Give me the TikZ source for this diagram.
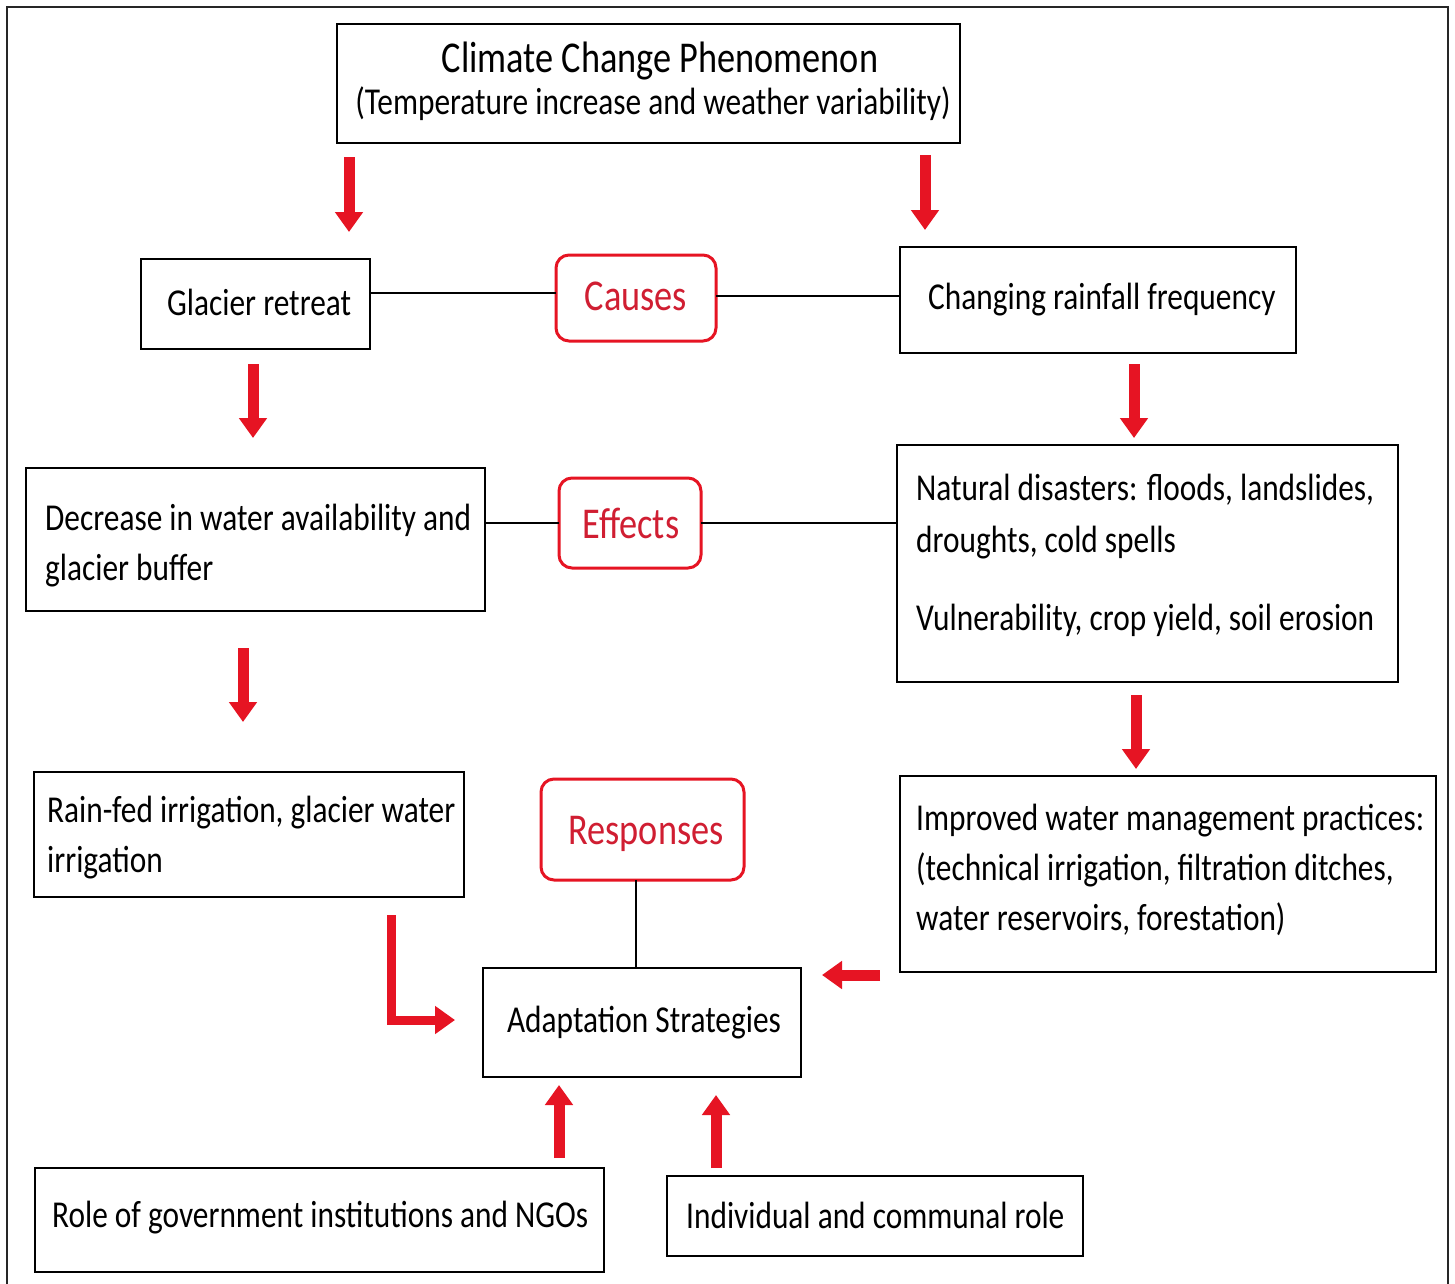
\documentclass[tikz,border=0pt]{standalone}
\usepackage{fontspec}
\newfontfamily\cf{Carlito}[FakeStretch=0.825]
\usetikzlibrary{arrows.meta}
\definecolor{arrred}{RGB}{230,20,35}
\definecolor{txtred}{RGB}{208,30,50}
\begin{document}
\begin{tikzpicture}[x=1pt,y=-1pt,
  box/.style={draw=black,line width=2pt,inner sep=0pt,outer sep=0pt},
  rbox/.style={draw=arrred,line width=3pt,rounded corners=13pt,inner sep=0pt,outer sep=0pt},
  txt/.style={inner sep=0pt,font=\cf\fontsize{38}{50}\selectfont},
  ttl/.style={inner sep=0pt,font=\cf\fontsize{44}{50}\selectfont},
  rtxt/.style={inner sep=0pt,text=txtred,font=\cf\fontsize{44}{50}\selectfont},
  conn/.style={draw=black,line width=2pt},
  redarrow/.style={draw=arrred,line width=11pt,-{Triangle[length=20pt,width=27pt]}}]
\useasboundingbox (0,0) rectangle (1455,1283);
\fill[white] (0,0) rectangle (1455,1283);
% outer frame
\draw[line width=2.5pt,black!85] (7,1295) -- (7,7) -- (1448,7) -- (1448,1295);

% boxes
\node[box,minimum width=623pt,minimum height=119pt] (top) at (648.5,83.5) {};
\node[box,minimum width=229pt,minimum height=90pt] (glacier) at (255.5,304) {};
\node[rbox,minimum width=160pt,minimum height=86pt] (causes) at (636,298) {};
\node[box,minimum width=396pt,minimum height=106pt] (rain) at (1098,300) {};
\node[box,minimum width=459pt,minimum height=143pt] (decrease) at (255.5,539.5) {};
\node[rbox,minimum width=142pt,minimum height=90pt] (effects) at (630,523) {};
\node[box,minimum width=501pt,minimum height=237pt] (natural) at (1147.5,563.5) {};
\node[box,minimum width=430pt,minimum height=125pt] (rainfed) at (249,834.5) {};
\node[rbox,minimum width=203pt,minimum height=101pt] (responses) at (642.5,829.5) {};
\node[box,minimum width=536pt,minimum height=196pt] (improved) at (1168,874) {};
\node[box,minimum width=318pt,minimum height=109pt] (adapt) at (642,1022.5) {};
\node[box,minimum width=569pt,minimum height=104pt] (role) at (319.5,1220) {};
\node[box,minimum width=416pt,minimum height=80pt] (indiv) at (875,1216) {};

% texts
\node[ttl,anchor=base] (t1) at (660,72) {Climate Change Phenomenon};
\node[txt,anchor=base] (t2) at (653,114) {(Temperature increase and weather variability)};
\node[txt,anchor=base west] (t3) at (167,315) {Glacier retreat};
\node[rtxt,anchor=base] (t4) at (636,310) {Causes};
\node[txt,anchor=base west] (t5) at (928,309) {Changing rainfall frequency};
\node[txt,anchor=base west] (t6) at (45,530) {Decrease in water availability and};
\node[txt,anchor=base west] (t7) at (45,580) {glacier buffer};
\node[rtxt,anchor=base] (t8) at (631,538) {Effects};
\node[txt,anchor=base west] (t9) at (916,500) {Natural disasters: floods, landslides,};
\node[txt,anchor=base west] (t10) at (916,552) {droughts, cold spells};
\node[txt,anchor=base west] (t11) at (916,630) {Vulnerability, crop yield, soil erosion};
\node[txt,anchor=base west] (t12) at (47,822) {Rain-fed irrigation, glacier water};
\node[txt,anchor=base west] (t13) at (47,872) {irrigation};
\node[rtxt,anchor=base] (t14) at (646,844) {Responses};
\node[txt,anchor=base west] (t15) at (916,830) {Improved water management practices:};
\node[txt,anchor=base west] (t16) at (916,880) {(technical irrigation, filtration ditches,};
\node[txt,anchor=base west] (t17) at (916,930) {water reservoirs, forestation)};
\node[txt,anchor=base] (t18) at (644,1032) {Adaptation Strategies};
\node[txt,anchor=base west] (t19) at (52,1227) {Role of government institutions and NGOs};
\node[txt,anchor=base west] (t20) at (686,1228) {Individual and communal role};

% black connectors
\draw[conn] (glacier.east |- 0,293) -- (causes.west |- 0,293);
\draw[conn] (causes.east |- 0,296) -- (rain.west |- 0,296);
\draw[conn] (decrease.east |- effects.west) -- (effects.west);
\draw[conn] (effects.east) -- (natural.west |- effects.east);
\draw[conn] (responses.south -| 636,0) -- (adapt.north -| 636,0);

% red arrows
\coordinate (a1s) at (349,157); \coordinate (a1e) at (349,232);
\coordinate (a2s) at (925,155); \coordinate (a2e) at (925,230);
\coordinate (a3s) at (253,364); \coordinate (a3e) at (253,438);
\coordinate (a4s) at (1134,364); \coordinate (a4e) at (1134,438);
\coordinate (a5s) at (243,648); \coordinate (a5e) at (243,722);
\coordinate (a6s) at (1136,695); \coordinate (a6e) at (1136,769);
\coordinate (a7s) at (391,915); \coordinate (a7m) at (391,1020); \coordinate (a7e) at (455,1020);
\coordinate (a8s) at (880,975); \coordinate (a8e) at (822,975);
\coordinate (a9s) at (559,1158); \coordinate (a9e) at (559,1085);
\coordinate (a10s) at (716,1168); \coordinate (a10e) at (716,1095);
\draw[redarrow] (a1s) -- (a1e);
\draw[redarrow] (a2s) -- (a2e);
\draw[redarrow] (a3s) -- (a3e);
\draw[redarrow] (a4s) -- (a4e);
\draw[redarrow] (a5s) -- (a5e);
\draw[redarrow] (a6s) -- (a6e);
\draw[redarrow,line width=9pt,line join=miter] (a7s) -- (a7m) -- (a7e);
\draw[redarrow] (a8s) -- (a8e);
\draw[redarrow] (a9s) -- (a9e);
\draw[redarrow] (a10s) -- (a10e);
\end{tikzpicture}
\end{document}
